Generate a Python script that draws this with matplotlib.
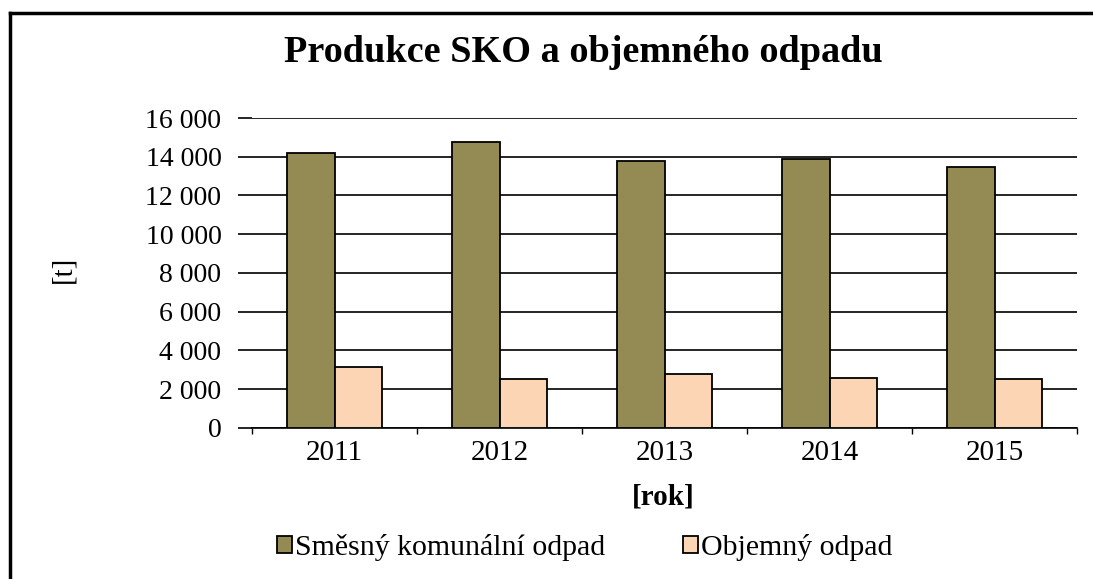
import numpy as np
import matplotlib.pyplot as plt
from matplotlib.lines import Line2D
from matplotlib.ticker import FuncFormatter, FixedLocator

# data
roky = ['2011', '2012', '2013', '2014', '2015']
sko = [14200, 14770, 13800, 13900, 13460]
objemny = [3170, 2545, 2770, 2600, 2545]

plt.rcParams['font.family'] = ['Liberation Serif', 'DejaVu Serif']

fig = plt.figure(figsize=(10.93, 5.79), dpi=100)
ax = fig.add_axes([0.2306, 0.2608, 0.7548, 0.5354])

x = np.arange(len(roky))
w = 0.288
ax.bar(x - w / 2, sko, w, color='#948A54', edgecolor='black', linewidth=1.3,
       label='Směsný komunální odpad', zorder=3)
ax.bar(x + w / 2, objemny, w, color='#FCD5B5', edgecolor='black', linewidth=1.3,
       label='Objemný odpad', zorder=3)

ax.set_xlim(-0.5, 4.5)
ax.set_ylim(0, 16000)
ax.set_yticks(np.arange(0, 16001, 2000))
ax.yaxis.set_major_formatter(FuncFormatter(lambda v, p: f'{int(v):,}'.replace(',', ' ')))
ax.grid(axis='y', color='black', linewidth=1.2, zorder=0)
ax.tick_params(axis='y', length=10, width=1.2, pad=12, labelsize=20)

# kategorie: carky mezi roky, popisky uprostred
ax.xaxis.set_major_locator(FixedLocator(np.arange(-0.5, 5, 1)))
ax.xaxis.set_major_formatter(FuncFormatter(lambda v, p: ''))
ax.xaxis.set_minor_locator(FixedLocator(x))
ax.set_xticklabels(roky, minor=True)
ax.tick_params(axis='x', which='major', length=4, width=1.0)
ax.tick_params(axis='x', which='minor', length=0, pad=9, labelsize=21)

for s in ['left', 'right', 'top']:
    ax.spines[s].set_visible(False)
ax.spines['bottom'].set_linewidth(1.2)

fig.text(0.534, 0.91, 'Produkce SKO a objemného odpadu', ha='center', va='center',
         fontsize=27.5, fontweight='bold')
fig.text(0.058, 0.535, '[t]', ha='center', va='center', rotation=90, fontsize=21)
fig.text(0.607, 0.142, '[rok]', ha='center', va='center', fontsize=21, fontweight='bold')

fig.legend(loc='center', bbox_to_anchor=(0.535, 0.055), ncol=2, frameon=False,
           fontsize=21.5, handlelength=0.5, handleheight=0.5, handletextpad=0.1,
           columnspacing=2.6)

# ramecek grafu
fig.add_artist(Line2D([0.009, 1.0], [0.978, 0.978], color='black', linewidth=2.5,
                      transform=fig.transFigure))
fig.add_artist(Line2D([0.009, 0.009], [0.0, 0.978], color='black', linewidth=2.5,
                      transform=fig.transFigure))

fig.savefig('out.png', dpi=100)
